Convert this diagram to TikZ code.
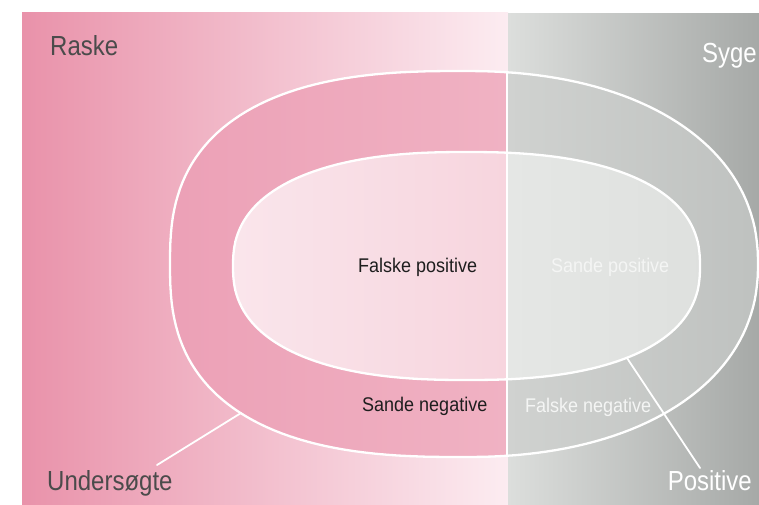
\documentclass[tikz,border=0pt]{standalone}
\usepackage{fontspec}
\setmainfont{Liberation Sans}
\definecolor{pinkBgL}{RGB}{233,146,170}
\definecolor{pinkBgM}{RGB}{238,165,185}
\definecolor{pinkBgR}{RGB}{252,236,241}
\definecolor{grayBgL}{RGB}{220,222,220}
\definecolor{grayBgR}{RGB}{166,169,167}
\definecolor{ringPL}{RGB}{236,160,182}
\definecolor{ringPR}{RGB}{240,178,195}
\definecolor{ringGL}{RGB}{208,210,208}
\definecolor{ringGR}{RGB}{190,193,191}
\definecolor{innerPL}{RGB}{250,230,236}
\definecolor{innerPR}{RGB}{247,213,222}
\definecolor{innerGL}{RGB}{229,231,229}
\definecolor{innerGR}{RGB}{222,224,222}
\definecolor{labeldark}{RGB}{75,75,75}
\definecolor{textdark}{RGB}{30,30,30}
\definecolor{faintwhite}{RGB}{244,245,244}
\begin{document}
\begin{tikzpicture}[x=1pt,y=-1pt,
  declare function={
    px(\t,\n)=((cos(\t)>0)-(cos(\t)<0))*abs(cos(\t))^(2/\n);
    py(\t,\n)=((sin(\t)>0)-(sin(\t)<0))*abs(sin(\t))^(2/\n);
  },
  outline/.style={draw=white,line width=2.3pt},
  leader/.style={draw=white,line width=1.8pt,line cap=round},
  biglabel/.style={font=\fontsize{24}{24}\selectfont,inner sep=0pt},
  smalllabel/.style={font=\fontsize{18}{18}\selectfont,inner sep=0pt,anchor=base west}]
\useasboundingbox (0,0) rectangle (759,504);
\fill[white] (0,0) rectangle (759,504);
% backgrounds
\fill[left color=pinkBgL,middle color=pinkBgM,right color=pinkBgR] (22,12) rectangle (508,504);
\fill[left color=grayBgL,right color=grayBgR] (508,13) rectangle (759,504);
% outer ring fill
\begin{scope}
  \clip plot[domain=-89.9:89.9,samples=90] ({464+294*px(\x,2.2)},{264+193*py(\x,2.2)})
     -- plot[domain=90.1:269.9,samples=90] ({464+294*px(\x,2.6)},{264+193*py(\x,2.6)}) -- cycle;
  \fill[left color=ringPL,right color=ringPR] (160,60) rectangle (507,470);
  \fill[left color=ringGL,right color=ringGR] (507,60) rectangle (765,470);
\end{scope}
% inner fill
\begin{scope}
  \clip plot[domain=-89.9:89.9,samples=90] ({466.5+233.5*px(\x,2.4)},{266+114*py(\x,2.4)})
     -- plot[domain=90.1:269.9,samples=90] ({466.5+233.5*px(\x,2.4)},{266+114*py(\x,2.4)}) -- cycle;
  \fill[left color=innerPL,right color=innerPR] (220,140) rectangle (507,390);
  \fill[left color=innerGL,right color=innerGR] (507,140) rectangle (710,390);
\end{scope}
% outlines
\draw[outline] plot[domain=-89.9:89.9,samples=90] ({464+294*px(\x,2.2)},{264+193*py(\x,2.2)})
     -- plot[domain=90.1:269.9,samples=90] ({464+294*px(\x,2.6)},{264+193*py(\x,2.6)}) -- cycle;
\draw[outline] plot[domain=-89.9:89.9,samples=90] ({466.5+233.5*px(\x,2.4)},{266+114*py(\x,2.4)})
     -- plot[domain=90.1:269.9,samples=90] ({466.5+233.5*px(\x,2.4)},{266+114*py(\x,2.4)}) -- cycle;
% divider
\coordinate (dtop) at (507,72.3);
\coordinate (dbot) at (507,455.7);
\draw[outline,line width=2pt] (dtop) -- (dbot);
% labels
\node[biglabel,text=labeldark,anchor=base west] (raske) at (50,55) {\scalebox{1}[1.15]{Raske}};
\node[biglabel,text=white,anchor=base east] (syge) at (757,62) {\scalebox{1}[1.15]{Syge}};
\node[biglabel,text=labeldark,anchor=base west] (unders) at (47,490) {\scalebox{1}[1.15]{Undersøgte}};
\node[biglabel,text=white,anchor=base east] (positive) at (752,490) {\scalebox{1}[1.15]{Positive}};
\node[smalllabel,text=textdark] (fp) at (358,272) {\scalebox{1}[1.1]{Falske positive}};
\node[smalllabel,text=textdark] (sn) at (362,411) {\scalebox{1}[1.1]{Sande negative}};
\node[smalllabel,text=faintwhite] (sp) at (551,272) {\scalebox{1}[1.1]{Sande positive}};
\node[smalllabel,text=faintwhite] (fn) at (525,412) {\scalebox{1}[1.1]{Falske negative}};
% leaders
\coordinate (uStart) at (157,465);
\coordinate (uEnd) at (241,413);
\coordinate (pStart) at (627,358);
\coordinate (pEnd) at (700,468);
\draw[leader] (uStart) -- (uEnd);
\draw[leader] (pStart) -- (pEnd);
\end{tikzpicture}
\end{document}
